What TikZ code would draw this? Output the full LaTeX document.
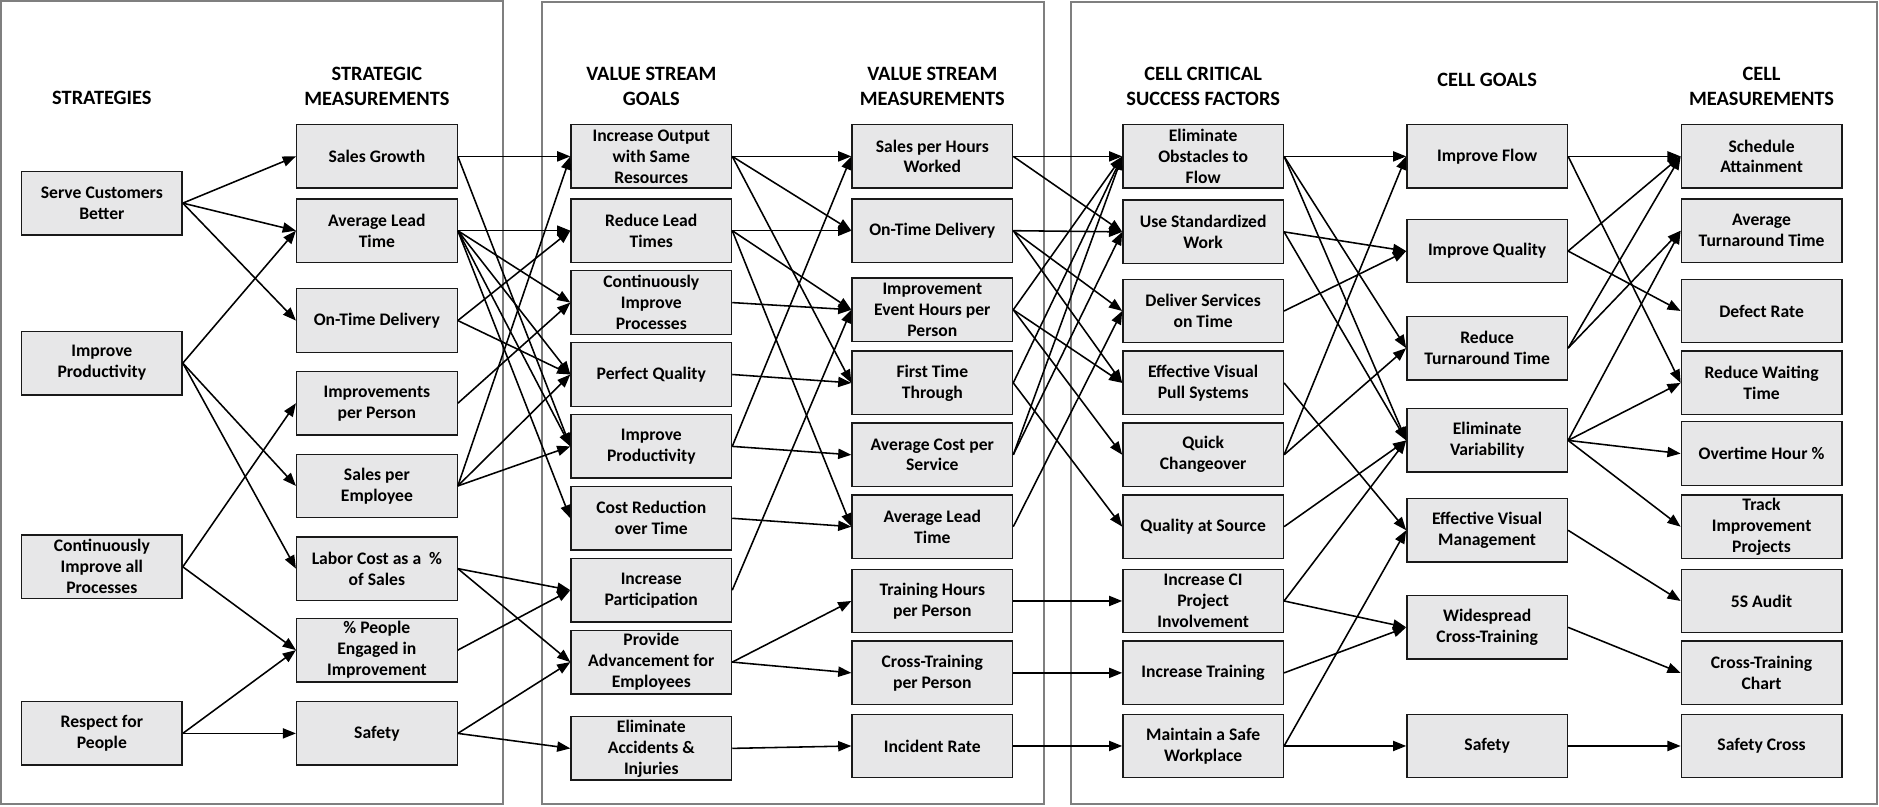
\documentclass[tikz,border=0pt]{standalone}
\usepackage{fontspec}
\setmainfont{Carlito}
\usetikzlibrary{arrows.meta}
\definecolor{boxgray}{HTML}{E7E7E8}
\definecolor{framegray}{HTML}{7F7F7F}
\begin{document}
\begin{tikzpicture}[x=1pt,y=-1pt,
  box/.style={draw=black!90, line width=1.1pt, fill=boxgray, minimum width=134pt, minimum height=53pt, inner sep=1pt, align=center, font=\fontsize{14.7}{17.5}\selectfont\bfseries},
  hdr/.style={align=center, font=\fontsize{17}{20.5}\selectfont\bfseries},
  conn/.style={-{Triangle[length=11pt,width=8.5pt]}, line width=1.3pt},
  panel/.style={draw=framegray, line width=1.8pt}]
\useasboundingbox (0,0) rectangle (1568,673);
% panels
\draw[panel] (1,1) rectangle (420,671);
\draw[panel] (452,2) rectangle (871,671);
\draw[panel] (894,2) rectangle (1566,671);
% headers
\node[hdr] (h1) at (85,82) {STRATEGIES};
\node[hdr] (h2) at (314.5,72) {STRATEGIC\\MEASUREMENTS};
\node[hdr] (h3) at (543.5,72) {VALUE STREAM\\GOALS};
\node[hdr] (h4) at (778,72) {VALUE STREAM\\MEASUREMENTS};
\node[hdr] (h5) at (1004,72) {CELL CRITICAL\\SUCCESS FACTORS};
\node[hdr] (h6) at (1241,67) {CELL GOALS};
\node[hdr] (h7) at (1470,72) {CELL\\MEASUREMENTS};
% strategies
\node[box] (s1) at (85,169.5) {Serve Customers\\Better};
\node[box] (s2) at (85,303) {Improve\\Productivity};
\node[box] (s3) at (85,473) {Continuously\\Improve all\\Processes};
\node[box] (s4) at (85,612) {Respect for\\People};
% strategic measurements
\node[box] (m1) at (314.5,130.5) {Sales Growth};
\node[box] (m2) at (314.5,192.5) {Average Lead\\Time};
\node[box] (m3) at (314.5,267.5) {On-Time Delivery};
\node[box] (m4) at (314.5,336.5) {Improvements\\per Person};
\node[box] (m5) at (314.5,405.5) {Sales per\\Employee};
\node[box] (m6) at (314.5,474.5) {Labor Cost as a \ \%\\of Sales};
\node[box] (m7) at (314.5,542.5) {\% People\\Engaged in\\Improvement};
\node[box] (m8) at (314.5,612) {Safety};
% value stream goals
\node[box] (g1) at (543.5,130.5) {Increase Output\\with Same\\Resources};
\node[box] (g2) at (543.5,192.5) {Reduce Lead\\Times};
\node[box] (g3) at (543.5,252.5) {Continuously\\Improve\\Processes};
\node[box] (g4) at (543.5,312.5) {Perfect Quality};
\node[box] (g5) at (543.5,372.5) {Improve\\Productivity};
\node[box] (g6) at (543.5,432.5) {Cost Reduction\\over Time};
\node[box] (g7) at (543.5,492.5) {Increase\\Participation};
\node[box] (g8) at (543.5,552.5) {Provide\\Advancement for\\Employees};
\node[box] (g9) at (543.5,624.5) {Eliminate\\Accidents \&\\Injuries};
% value stream measurements
\node[box] (v1) at (778,130.5) {Sales per Hours\\Worked};
\node[box] (v2) at (778,192.5) {On-Time Delivery};
\node[box] (v3) at (778,258.5) {Improvement\\Event Hours per\\Person};
\node[box] (v4) at (778,319.5) {First Time\\Through};
\node[box] (v5) at (778,379.5) {Average Cost per\\Service};
\node[box] (v6) at (778,439.5) {Average Lead\\Time};
\node[box] (v7) at (778,501.5) {Training Hours\\per Person};
\node[box] (v8) at (778,561.5) {Cross-Training\\per Person};
\node[box] (v9) at (778,622.5) {Incident Rate};
% cell critical success factors
\node[box] (c1) at (1004,130.5) {Eliminate\\Obstacles to\\Flow};
\node[box] (c2) at (1004,193.5) {Use Standardized\\Work};
\node[box] (c3) at (1004,259.5) {Deliver Services\\on Time};
\node[box] (c4) at (1004,319.5) {Effective Visual\\Pull Systems};
\node[box] (c5) at (1004,379.5) {Quick\\Changeover};
\node[box] (c6) at (1004,439.5) {Quality at Source};
\node[box] (c7) at (1004,501.5) {Increase CI\\Project\\Involvement};
\node[box] (c8) at (1004,561.5) {Increase Training};
\node[box] (c9) at (1004,622.5) {Maintain a Safe\\Workplace};
% cell goals
\node[box] (q1) at (1241,130.5) {Improve Flow};
\node[box] (q2) at (1241,209.5) {Improve Quality};
\node[box] (q3) at (1241,290.5) {Reduce\\Turnaround Time};
\node[box] (q4) at (1241,367.5) {Eliminate\\Variability};
\node[box] (q5) at (1241,442.5) {Effective Visual\\Management};
\node[box] (q6) at (1241,523.5) {Widespread\\Cross-Training};
\node[box] (q7) at (1241,622.5) {Safety};
% cell measurements
\node[box] (r1) at (1470,130.5) {Schedule\\Attainment};
\node[box] (r2) at (1470,192.5) {Average\\Turnaround Time};
\node[box] (r3) at (1470,259.5) {Defect Rate};
\node[box] (r4) at (1470,319.5) {Reduce Waiting\\Time};
\node[box] (r5) at (1470,378.5) {Overtime Hour \%};
\node[box] (r6) at (1470,439.5) {Track\\Improvement\\Projects};
\node[box] (r7) at (1470,501.5) {5S Audit};
\node[box] (r8) at (1470,561.5) {Cross-Training\\Chart};
\node[box] (r9) at (1470,622.5) {Safety Cross};
% strategies -> strategic measurements
\foreach \a/\b in {s1/m1,s1/m2,s1/m3,s2/m2,s2/m5,s2/m6,s3/m4,s3/m7,s4/m7,s4/m8}
  \draw[conn] (\a.east) -- (\b.west);
% strategic measurements -> value stream goals
\foreach \a/\b in {m1/g1,m1/g5,m2/g2,m2/g3,m2/g4,m2/g5,m2/g6,m3/g2,m3/g4,m4/g3,m5/g1,m5/g4,m5/g5,m6/g7,m6/g8,m7/g7,m8/g8,m8/g9}
  \draw[conn] (\a.east) -- (\b.west);
% value stream goals -> value stream measurements
\foreach \a/\b in {g1/v1,g1/v2,g1/v4,g2/v2,g2/v3,g2/v6,g3/v3,g4/v4,g5/v1,g5/v5,g6/v6,g7/v3,g8/v7,g8/v8,g9/v9}
  \draw[conn] (\a.east) -- (\b.west);
% value stream measurements -> cell critical success factors
\foreach \a/\b in {v1/c1,v1/c2,v2/c2,v2/c3,v2/c4,v3/c1,v3/c4,v3/c5,v4/c1,v4/c6,v5/c1,v5/c2,v6/c3,v7/c7,v8/c8,v9/c9}
  \draw[conn] (\a.east) -- (\b.west);
% cell critical success factors -> cell goals
\foreach \a/\b in {c1/q1,c1/q3,c1/q4,c2/q2,c2/q4,c3/q2,c4/q5,c5/q1,c5/q3,c6/q4,c7/q4,c7/q6,c8/q6,c9/q7,c9/q5}
  \draw[conn] (\a.east) -- (\b.west);
% cell goals -> cell measurements
\foreach \a/\b in {q1/r1,q1/r4,q2/r1,q2/r3,q3/r1,q3/r2,q4/r2,q4/r4,q4/r5,q4/r6,q5/r7,q6/r8,q7/r9}
  \draw[conn] (\a.east) -- (\b.west);
\end{tikzpicture}
\end{document}
